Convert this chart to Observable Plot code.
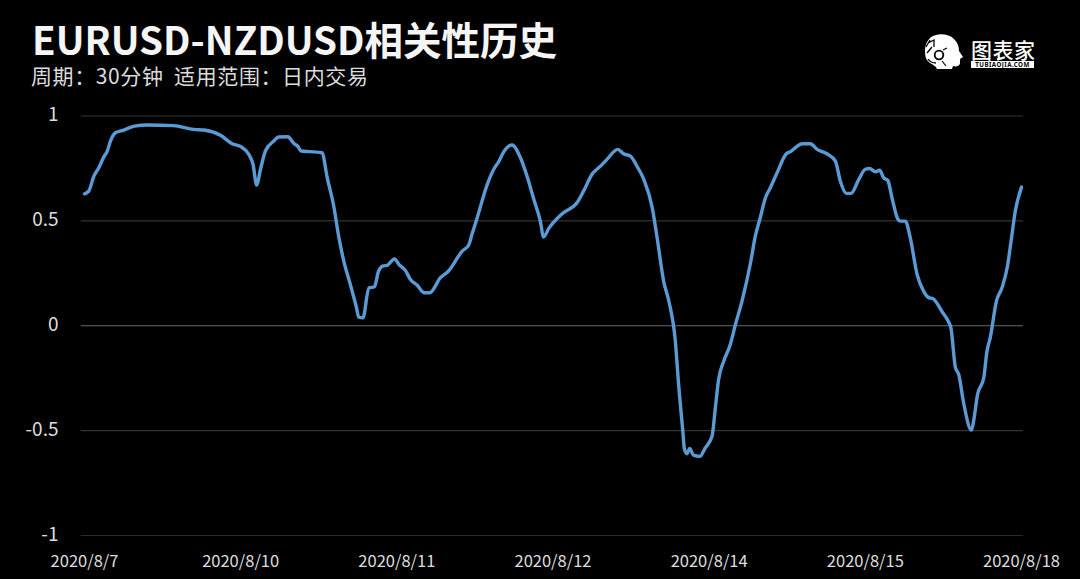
<!DOCTYPE html>
<html lang="zh">
<head>
<meta charset="utf-8">
<script src="https://cdn.jsdelivr.net/npm/d3@7"></script>
<script src="https://cdn.jsdelivr.net/npm/@observablehq/plot@0.6"></script>
<style>
html,body{margin:0;padding:0;background:#000;overflow:hidden}
#page{position:relative;width:1080px;height:579px;background:#000;font-family:"Noto Sans CJK SC","Noto Sans",sans-serif}
#title{position:absolute;left:32px;top:18px;height:40px;color:#f5f5f5;font-size:38.5px;font-weight:700;line-height:40px;white-space:nowrap}
#subtitle{position:absolute;left:31px;top:62px;height:26px;color:#dcdcdc;font-size:21px;font-weight:400;line-height:26px;white-space:pre;letter-spacing:.6px}
#logo{position:absolute;left:920px;top:30px}
#logoName{position:absolute;left:971px;top:39px;width:64px;height:21px;line-height:21px;font-size:21px;font-weight:500;color:#fff;letter-spacing:.5px;white-space:nowrap}
#logoUrl{position:absolute;left:971px;top:61px;width:63px;height:7px;line-height:7px;background:#fff;color:#000;font-size:6.2px;font-weight:700;text-align:center;letter-spacing:.45px;font-family:"Noto Sans",sans-serif;white-space:nowrap;overflow:hidden}
#chart{position:absolute;left:0;top:0}
</style>
</head>
<body>
<div id="page">
<div id="chart"></div>
<div id="title">EURUSD-NZDUSD相关性历史</div>
<div id="subtitle">周期：30分钟  适用范围：日内交易</div>
<svg id="logo" width="46" height="44" viewBox="0 0 46 44">
  <path d="M10 8C16 3 28 3 34 9C38 13 39 17 39 21L43 27L40 29L40 33C40 36 36 37 33 36L32 39L17 39C16 36 13 35 10 33C6 30 5 27 5 20C5 15 7 11 10 8Z" fill="#fff"/>
  <path d="M10 10L6 17M8 13L14 10L14 17M7 23L12 17M8 29C10 32 13 33 16 33" fill="none" stroke="#000" stroke-width="1.3"/>
  <circle cx="19" cy="25" r="4.3" fill="none" stroke="#000" stroke-width="1.8"/>
  <path d="M23 20L27 18M22 31L26 36" fill="none" stroke="#000" stroke-width="1.2"/>
</svg>
<div id="logoName">图表家</div>
<div id="logoUrl">TUBIAOJIA.COM</div>
</div>
<script>
const bars = [0,1.3,2.9,4.4,5.9,7,8,9.5,12.1,15.4,19.3,27.4,33.6,36.7,41.8,45.4,47.9,50.5,51.8,52.9,54.1,55.6,58.2,59.7,62.5,64.3,65.5,66.6,69.4,73,74.6,76.6,78.2,79.7,81.7,83.6,84.3,85.6,87.4,89.1,90.4,91.8,93,95.3,96.6,98.6,100.2,102.2,104.5,106.1,109.4,111.9,116.1,118.1,119.1,120.7,123.8,125.8,127.3,128.9,131.4,134,136,138.1,140.1,141.1,142.7,146.8,151.6,153.4,156,158.6,160.6,163.9,165.7,167.8,169.8,171.9,174.5,176,178,179.6,181.6,182.6,183.9,184.4,185.2,186,187.2,189.1,190.8,192.9,193.9,194.9,196.5,198.5,200.1,202.1,204.7,206.2,207.7,209.3,210.8,212.9,215.7,217,218.5,220.6,223.1,225.2,228.2,230.8,232.3,234.2,235.6,238,240,241.3,243.1,244.4,245.6,246.9,248.2,249.8,250.8,252.3,253.8,255.9,257.9,259.5,260.8,263.6,265.6,266.3,267.7,268.7,270.2,272.6,273.1,274.5,276.4,277.4,278.4,280.3,282,283.7,284.8,286.1,288];
const correlation = [.629,.642,.714,.753,.804,.833,.881,.92,.933,.952,.957,.954,.936,.933,.908,.868,.855,.817,.77,.671,.746,.833,.881,.9,.901,.87,.857,.833,.83,.825,.706,.571,.42,.308,.197,.086,.041,.038,.181,.185,.261,.285,.288,.319,.293,.264,.221,.194,.157,.157,.229,.261,.356,.385,.436,.515,.674,.746,.782,.83,.862,.801,.714,.603,.499,.423,.464,.534,.591,.642,.722,.761,.793,.841,.82,.809,.761,.698,.563,.42,.213,.118,-.073,-.278,-.502,-.589,-.61,-.585,-.617,-.623,-.582,-.526,-.391,-.256,-.168,-.089,.007,.118,.299,.428,.515,.61,.658,.73,.82,.83,.849,.868,.868,.841,.82,.785,.69,.631,.631,.698,.746,.75,.734,.742,.706,.693,.61,.515,.499,.499,.42,.245,.165,.134,.129,.067,.018,-.01,-.2,-.232,-.367,-.497,-.47,-.327,-.248,-.121,-.057,.118,.181,.285,.404,.547,.661];
const xTickBars = [0,48,96,144,192,240,288];
const xTickLabels = ["2020/8/7","2020/8/10","2020/8/11","2020/8/12","2020/8/14","2020/8/15","2020/8/18"];
const yTicks = [1,0.5,0,-0.5,-1];
const gridColor = ["#333","#333","#6a6a6a","#333","#2c2c2c"];

const rows = bars.map((b,i)=>({bar:b,value:correlation[i]}));
const grid = yTicks.map((v,i)=>({v,c:gridColor[i]}));

const plot = Plot.plot({
  width:1080,height:579,
  marginLeft:81,marginRight:57,marginTop:115,marginBottom:44,
  style:{background:"#000",fontFamily:'"Noto Sans CJK SC","Noto Sans",sans-serif',color:"#ddd"},
  x:{domain:[0,288],range:[84,1021]},
  y:{domain:[-1,1],range:[535,115.5]},
  marks:[
    Plot.ruleY(grid,{y:"v",x1:()=>-1,x2:()=>288.6,stroke:"c",strokeWidth:1.2}),
    Plot.axisX({ticks:xTickBars,tickSize:0,tickPadding:20,tickFormat:d=>xTickLabels[xTickBars.indexOf(d)],fontSize:16.5,label:null,fill:"#ddd"}),
    Plot.axisY({ticks:yTicks,tickSize:0,tickPadding:23,dy:-1,tickFormat:d=>String(d),fontSize:19,label:null,fill:"#ddd"}),
    Plot.line(rows,{x:"bar",y:"value",stroke:"#5b9bd5",strokeWidth:3.4,curve:"monotone-x"})
  ]
});
document.getElementById("chart").appendChild(plot);
</script>
</body>
</html>
